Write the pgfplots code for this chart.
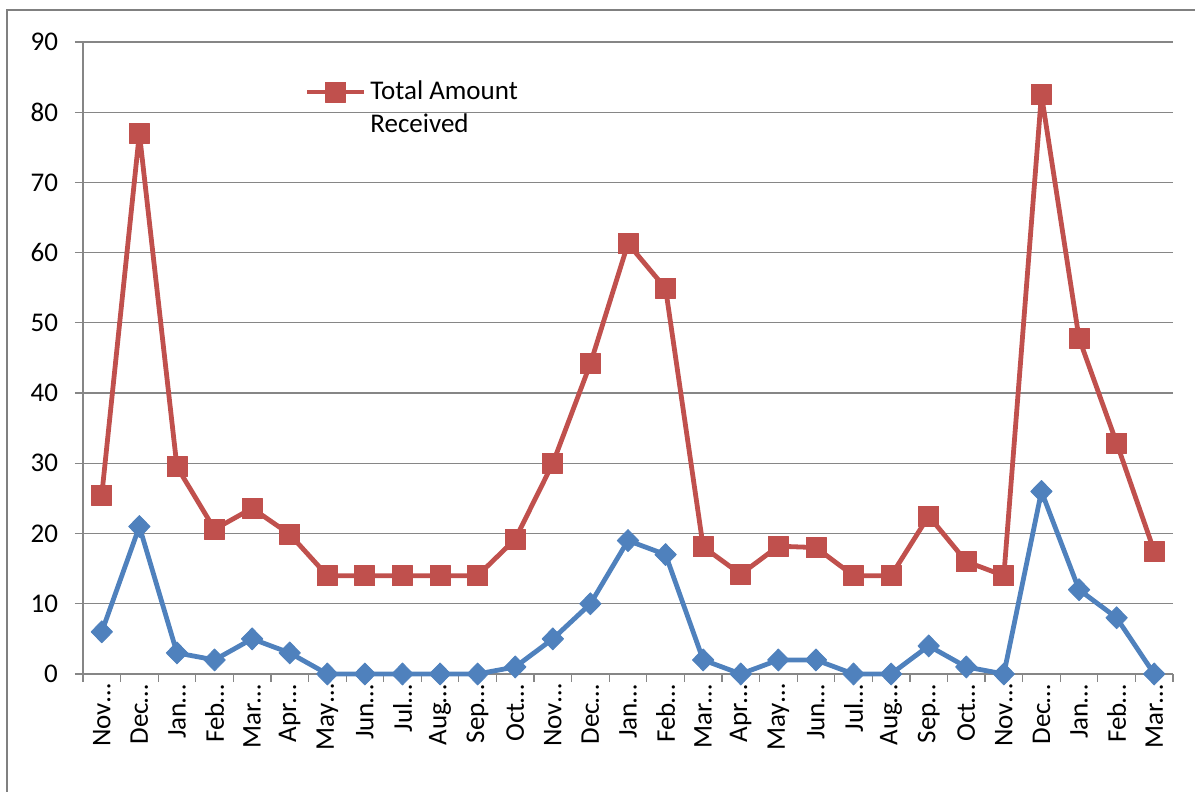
\documentclass[border=0pt]{standalone}
\usepackage{pgfplots}
\pgfplotsset{compat=1.18}
\usepackage{fontspec}
\setmainfont{Carlito}
\definecolor{exred}{RGB}{192,80,77}
\definecolor{exblue}{RGB}{79,129,189}
\definecolor{gridgray}{RGB}{134,134,134}
\begin{document}
\begin{tikzpicture}
\begin{axis}[
  scale only axis,
  width=545pt, height=316pt,
  xmin=-0.5, xmax=28.5,
  ymin=0, ymax=90,
  ytick={0,10,...,90},
  xtick={0,1,...,28},
  xticklabels={Nov…,Dec…,Jan…,Feb…,Mar…,Apr…,May…,Jun…,Jul…,Aug…,Sep…,Oct…,Nov…,Dec…,Jan…,Feb…,Mar…,Apr…,May…,Jun…,Jul…,Aug…,Sep…,Oct…,Nov…,Dec…,Jan…,Feb…,Mar…},
  minor xtick={-0.5,0.5,...,28.5},
  major x tick style={draw=none},
  minor x tick style={gridgray, line width=0.6pt},
  minor tick length=4pt,
  major tick length=4pt,
  tick align=outside,
  axis x line*=bottom, axis y line*=left,
  axis line style={gridgray, line width=0.6pt, -},
  ytick style={gridgray, line width=0.6pt},
  ymajorgrids, grid style={gridgray, line width=0.6pt},
  /pgf/number format/assume math mode=true,
  tick label style={font=\fontsize{13.5}{16}\selectfont, text=black},
  xticklabel style={rotate=90, anchor=east, inner sep=1pt, yshift=0pt, xshift=0pt},
  yticklabel style={xshift=-5pt},
  legend style={at={(0.203,0.945)}, anchor=north west, draw=none, fill=none,
    font=\fontsize{13.5}{16.5}\selectfont, inner sep=0pt},
  legend cell align=left,
  legend image code/.code={\draw[mark repeat=2,mark phase=2] plot coordinates {(0cm,0cm) (0.5cm,0cm) (1cm,0cm)};},
  clip=false,
]
\addplot[exred, line width=2.4pt, line join=round, mark=square*, mark size=5pt, mark options={solid, line width=0.4pt}]
coordinates {(0,25.5) (1,77) (2,29.5) (3,20.6) (4,23.6) (5,19.9) (6,14) (7,14) (8,14) (9,14) (10,14) (11,19.2) (12,30) (13,44.2) (14,61.3) (15,54.9) (16,18.1) (17,14.2) (18,18.2) (19,18) (20,14) (21,14) (22,22.5) (23,16) (24,14) (25,82.5) (26,47.8) (27,32.9) (28,17.5)};
\addlegendentry{\parbox[t]{3.5cm}{Total Amount\\Received}}
\addplot[exblue, line width=2.4pt, line join=round, mark=diamond*, mark size=5.5pt, mark options={solid, line width=0.4pt, xscale=1.3}, forget plot]
coordinates {(0,6) (1,21) (2,3) (3,2) (4,5) (5,3) (6,0) (7,0) (8,0) (9,0) (10,0) (11,1) (12,5) (13,10) (14,19) (15,17) (16,2) (17,0) (18,2) (19,2) (20,0) (21,0) (22,4) (23,1) (24,0) (25,26) (26,12) (27,8) (28,0)};
\coordinate (sw) at (rel axis cs:0,0);
\coordinate (ne) at (rel axis cs:1,1);
\end{axis}
\path[use as bounding box] ([shift={(-41.5pt,-59pt)}]sw) rectangle ([shift={(11pt,21pt)}]ne);
\draw[gray, line width=1.2pt] ([shift={(-38pt,-80pt)}]sw) |- ([shift={(30pt,16pt)}]ne);
\end{tikzpicture}
\end{document}
